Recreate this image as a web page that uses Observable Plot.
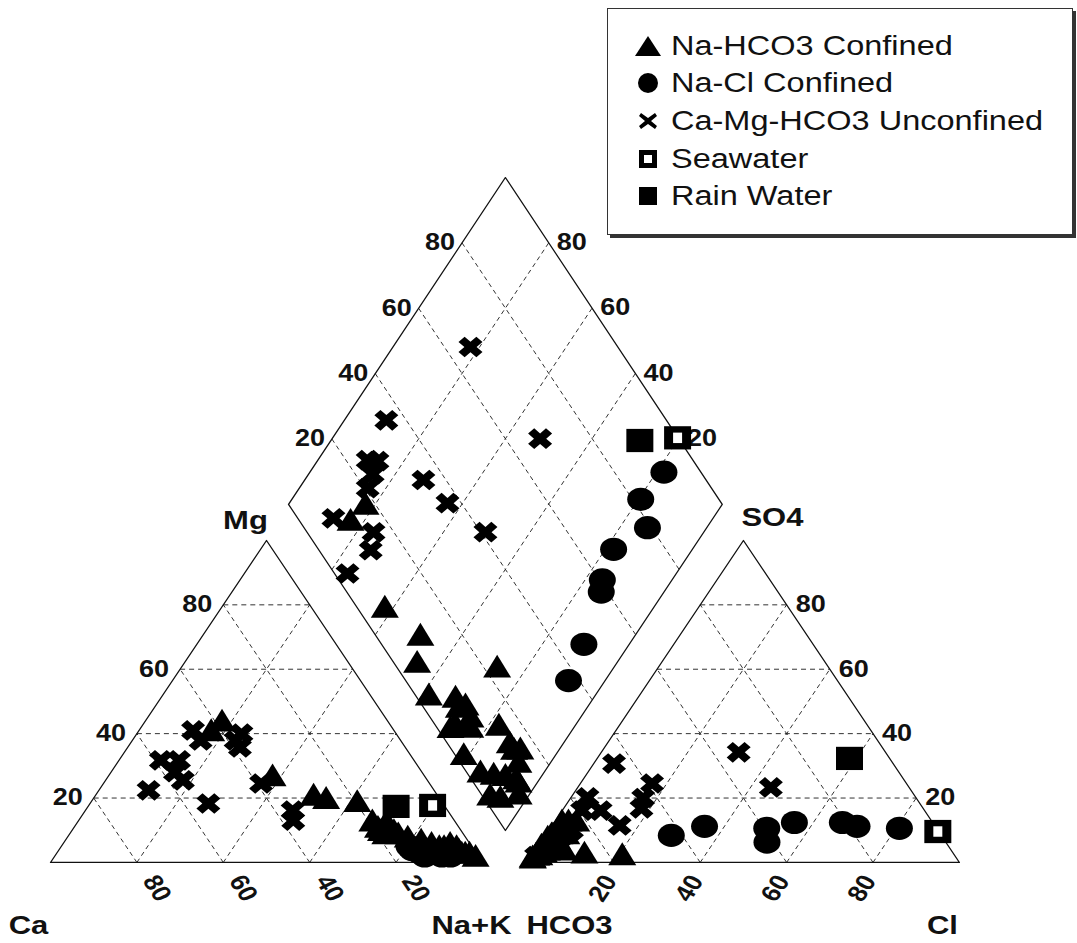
<!DOCTYPE html>
<html>
<head>
<meta charset="utf-8">
<script src="https://cdn.jsdelivr.net/npm/d3@7"></script>
<script src="https://cdn.jsdelivr.net/npm/@observablehq/plot@0.6"></script>
<style>
  body { margin: 0; background: #fff; }
  #chart { position: relative; width: 1077px; height: 943px; overflow: hidden; }
  #legend {
    position: absolute; left: 607px; top: 8px; width: 464px; height: 225px;
    border: 1.5px solid #333; box-shadow: 3px 3px 0 #333; background: #fff;
    font-family: "Liberation Sans", Arial, sans-serif; color: #111;
  }
  #legend .row { position: absolute; left: 0; height: 34px; width: 460px; }
  #legend .row svg { position: absolute; left: 26px; top: 3px; }
  #legend .row span {
    position: absolute; left: 63px; top: 0; font-size: 32.5px; line-height: 34px;
    white-space: nowrap; transform: scaleY(0.86); transform-origin: left center;
  }
</style>
</head>
<body>
<div id="chart"><div id="legend"></div></div>
<script>
// Samples as [Mg, Na+K, SO4, Cl] in % meq/L (Ca = 100 - Mg - Na+K, HCO3 = 100 - SO4 - Cl)
const naHco3Confined = [
  [26, 38.4, 3, 3], [20, 50.9, 8, 1.9], [19, 54.3, 2.5, 2.5], [8, 73.5, 1.5, 21.2],
  [18, 62, 1.5, 1.2], [10, 70.8, 6, 1.7], [9, 75, 7, 1.9], [11, 72.6, 2.5, 1.8],
  [6, 82.8, 2, 12.2], [7, 79.2, 0.8, 0.8], [3, 91.4, 12, 3.5], [5, 85.7, 1.5, 1.3],
  [4, 89.1, 4.5, 1], [2, 94.2, 1.5, 2], [1, 97.9, 7, 1.2], [3, 91.5, 0.5, 1],
  [43, 18.2, 12, 5.3], [40, 17.2, 8, 3.4], [12, 68.5, 6, 2.5], [10, 72, 8, 1.6],
  [8, 76.5, 4, 3.3], [9, 72, 1.5, 1.2], [4, 88, 10, 4], [3, 93, 8, 5],
  [2, 95, 6, 4], [5, 90, 12, 2], [2, 96, 3, 7], [4, 92, 4, 4]
];
const naClConfined = [
  [4, 81.7, 10.6, 80.8], [5, 80.5, 11.2, 70.7], [3, 86.4, 12.4, 66.7], [4, 81.9, 12.4, 55.6],
  [3, 84, 10.6, 50.1], [2, 85.6, 6.3, 52.3], [2, 89.6, 11.2, 35.4], [2, 91.6, 8.4, 29.1]
];
const caMgHco3Unconfined = [
  [25.5, 17.9, 34.2, 31.8], [16.1, 48, 23.3, 44.7], [31.7, 9.7, 30.7, 4.7], [18.3, 27.4, 16.8, 18],
  [24.5, 36.5, 20, 16.8], [13, 49.7, 24.5, 16.6], [22.4, 11.5, 16.1, 8.9], [31.7, 13.9, 11.5, 15.6],
  [28, 14.8, 20.2, 3.8], [37.9, 15.8, 16.1, 4.6], [41, 12.5, 5, 3.2], [37.9, 23.9, 10, 5.3],
  [35.7, 26, 8, 3.9], [40, 24.2, 2, 1]
];
const seawater = [[17.7, 79.6, 9.6, 90.2]];
const rainWater = [[17.4, 71.3, 32.3, 58.4]];

const gridTicks = [20, 40, 60, 80];
const legendLabels = ["Na-HCO3 Confined", "Na-Cl Confined", "Ca-Mg-HCO3 Unconfined", "Seawater", "Rain Water"];

// ---- Piper geometry (u: % of triangle side, v: % of triangle height) ----
const R0 = 110.4;                      // left corner of the anion triangle
const DL = [55.1, 111.2], DB = [105.3, 9.9], DT = [105.3, 212.7], DR = [155.5, 111.2];
const cat = (mg, nak) => [nak + mg / 2, mg];
const ani = (so4, cl) => [R0 + cl + so4 / 2, so4];
const dia = (nak, s) => [
  DL[0] + nak / 100 * (DB[0] - DL[0]) + s / 100 * (DT[0] - DL[0]),
  DL[1] + nak / 100 * (DB[1] - DL[1]) + s / 100 * (DT[1] - DL[1])
];
const project = (samples) => samples.flatMap(([mg, nak, so4, cl]) =>
  [cat(mg, nak), ani(so4, cl), dia(nak, so4 + cl)]).map(([u, v]) => ({u, v}));

// Page is drawn in an equilateral frame, then shown slightly flattened
const W = 1077, H = 943, K = 0.8604, HI = Math.round(H / K);

// ---- marker shapes (r = half width) ----
const rOf = (size) => Math.sqrt(size / Math.PI);
const tri = { draw(c, size) { const r = rOf(size), h = 1.9 * r;
  c.moveTo(0, -h * 2 / 3); c.lineTo(r, h / 3); c.lineTo(-r, h / 3); c.closePath(); } };
const sq = { draw(c, size) { const r = rOf(size); c.rect(-r, -r, 2 * r, 2 * r); } };
const sqInner = { draw(c, size) { const r = rOf(size); c.rect(-r, -1.35 * r, 2 * r, 2.7 * r); } };
const boldX = { draw(c, size) {
  const r = rOf(size), t = 0.36 * r, L = r * Math.SQRT2 - t;
  const p = [[-t,-L],[t,-L],[t,-t],[L,-t],[L,t],[t,t],[t,L],[-t,L],[-t,t],[-L,t],[-L,-t],[-t,-t]]
    .map(([x, y]) => [(x - y) / Math.SQRT2, (x + y) / Math.SQRT2]);
  c.moveTo(...p[0]); p.slice(1).forEach(q => c.lineTo(...q)); c.closePath(); } };

// ---- frame ----
const outlines = [
  [[0, 0], [100, 0], [50, 100], [0, 0]],
  [[R0, 0], [R0 + 100, 0], [R0 + 50, 100], [R0, 0]],
  [DL, DB, DR, DT, DL]
].flatMap((pts, i) => pts.map(([u, v]) => ({u, v, part: i})));

const seg = (a, b) => ({x1: a[0], y1: a[1], x2: b[0], y2: b[1]});
const grid = gridTicks.flatMap(k => [
  seg(cat(k, 0), cat(k, 100 - k)), seg(cat(0, k), cat(100 - k, k)), seg(cat(0, 100 - k), cat(100 - k, 0)),
  seg(ani(k, 0), ani(k, 100 - k)), seg(ani(0, k), ani(100 - k, k)), seg(ani(0, 100 - k), ani(100 - k, 0)),
  seg(dia(k, 0), dia(k, 100)), seg(dia(0, k), dia(100, k))
]);

const lab = (pos, text) => ({u: pos[0], v: pos[1], text: String(text)});
const tickFont = {fontSize: 27, fontWeight: "bold", fontFamily: "'Liberation Sans', Arial, sans-serif", fill: "#111"};
const titleFont = {fontSize: 31, fontWeight: "bold", fontFamily: "'Liberation Sans', Arial, sans-serif", fill: "#111"};
const title = (pos, text, dx, dy) =>
  Plot.text([lab(pos, text)], {x: "u", y: "v", text: "text", dx, dy, ...titleFont});

const plot = Plot.plot({
  width: W, height: HI, margin: 0,
  x: {type: "linear", domain: [0, 100], range: [50, 482], axis: null},
  y: {type: "linear", domain: [0, 100], range: [862 / K, 540 / K], axis: null},
  marks: [
    Plot.link(grid, {x1: "x1", y1: "y1", x2: "x2", y2: "y2", stroke: "#222", strokeWidth: 1, strokeDasharray: "5,4"}),
    Plot.line(outlines, {x: "u", y: "v", z: "part", stroke: "#111", strokeWidth: 1.3}),
    // cation triangle scales
    Plot.text(gridTicks.map(k => lab(cat(0, k), 100 - k)), {x: "u", y: "v", text: "text", rotate: 60, dx: 20, dy: 30, ...tickFont}),
    Plot.text(gridTicks.map(k => lab(cat(k, 0), k)), {x: "u", y: "v", text: "text", textAnchor: "end", dx: -11, ...tickFont}),
    // anion triangle scales
    Plot.text(gridTicks.map(k => lab(ani(0, k), k)), {x: "u", y: "v", text: "text", rotate: -60, dx: -11, dy: 30, ...tickFont}),
    Plot.text(gridTicks.map(k => lab(ani(k, 100 - k), k)), {x: "u", y: "v", text: "text", textAnchor: "start", dx: 9, ...tickFont}),
    // diamond scales
    Plot.text(gridTicks.map(k => lab(dia(0, k), k)), {x: "u", y: "v", text: "text", textAnchor: "end", dx: -7, ...tickFont}),
    Plot.text(gridTicks.map(k => lab(dia(k, 100), 100 - k)), {x: "u", y: "v", text: "text", textAnchor: "start", dx: 8, ...tickFont}),
    // corner titles
    title(cat(0, 0), "Ca", -22, 73),
    title(cat(0, 100), "Na+K", -11, 73),
    title(ani(0, 0), "HCO3", 42, 73),
    title(ani(0, 100), "Cl", -17, 73),
    title(cat(100, 0), "Mg", -21, -23),
    title(ani(100, 0), "SO4", 29, -27),
    // samples
    Plot.dot(project(naClConfined), {x: "u", y: "v", r: 13.5, symbol: "circle", fill: "#000", stroke: "none"}),
    Plot.dot(project(caMgHco3Unconfined), {x: "u", y: "v", r: 12, symbol: boldX, fill: "#000", stroke: "none"}),
    Plot.dot(project(naHco3Confined), {x: "u", y: "v", r: 14, symbol: tri, fill: "#000", stroke: "none"}),
    Plot.dot(project(rainWater), {x: "u", y: "v", r: 13.5, symbol: sq, fill: "#000", stroke: "none"}),
    Plot.dot(project(seawater), {x: "u", y: "v", r: 13.5, symbol: sq, fill: "#000", stroke: "none"}),
    Plot.dot(project(seawater), {x: "u", y: "v", r: 4.5, symbol: sqInner, fill: "#fff", stroke: "none"})
  ]
});
plot.setAttribute("preserveAspectRatio", "none");
plot.setAttribute("height", H);
plot.style.width = W + "px";
plot.style.height = H + "px";
plot.style.maxWidth = "none";
document.getElementById("chart").prepend(plot);

// ---- legend ----
const legendSymbols = [
  '<polygon points="1,24 14,4 27,24" fill="#000"/>',
  '<ellipse cx="14" cy="14" rx="10" ry="10" fill="#000"/>',
  '<path d="M7,6 L14,11 L21,6 L23,9 L17,14 L23,19 L21,22 L14,17 L7,22 L5,19 L11,14 L5,9 Z" fill="#000"/>',
  '<rect x="5" y="5" width="18" height="18" fill="#000"/><rect x="10" y="10" width="8" height="8" fill="#fff"/>',
  '<rect x="5" y="5" width="18" height="18" fill="#000"/>'
];
const rowTops = [20, 57, 95, 133, 170];
const legend = document.getElementById("legend");
legendLabels.forEach((t, i) => {
  const row = document.createElement("div");
  row.className = "row";
  row.style.top = rowTops[i] + "px";
  row.innerHTML = `<svg width="28" height="28" viewBox="0 0 28 28">${legendSymbols[i]}</svg><span>${t}</span>`;
  legend.appendChild(row);
});
</script>
</body>
</html>
